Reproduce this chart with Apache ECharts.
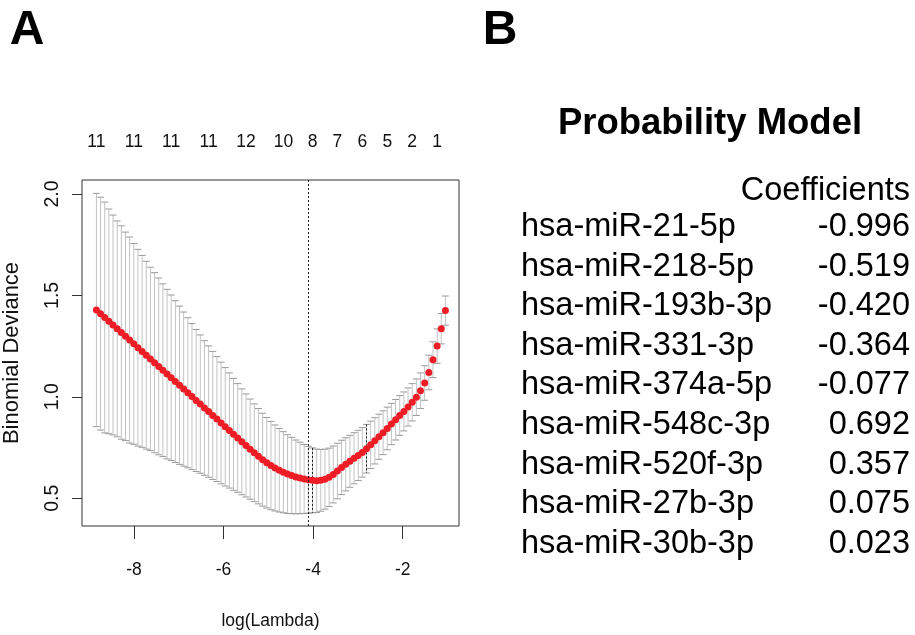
<!DOCTYPE html>
<html><head><meta charset="utf-8">
<script src="https://cdn.jsdelivr.net/npm/echarts@6/dist/echarts.min.js"></script>
<style>html,body{margin:0;padding:0;background:#fff}#c{width:915px;height:635px}</style>
</head><body><div id="c"></div>
<script>
// ---- data ----
const logLambda = [
-8.840,-8.747,-8.654,-8.562,-8.469,-8.376,-8.283,-8.190,-8.098,-8.005,
-7.912,-7.819,-7.726,-7.634,-7.541,-7.448,-7.355,-7.262,-7.170,-7.077,
-6.984,-6.891,-6.798,-6.706,-6.613,-6.520,-6.427,-6.334,-6.242,-6.149,
-6.056,-5.963,-5.870,-5.778,-5.685,-5.592,-5.499,-5.406,-5.314,-5.221,
-5.128,-5.035,-4.942,-4.850,-4.757,-4.664,-4.571,-4.478,-4.386,-4.293,
-4.200,-4.107,-4.014,-3.922,-3.829,-3.736,-3.643,-3.550,-3.458,-3.365,
-3.272,-3.179,-3.086,-2.994,-2.901,-2.808,-2.715,-2.622,-2.530,-2.437,
-2.344,-2.251,-2.158,-2.066,-1.973,-1.880,-1.787,-1.694,-1.602,-1.509,
-1.416,-1.323,-1.230,-1.138,-1.045];
const cvm = [
1.428,1.410,1.391,1.372,1.354,1.335,1.317,1.298,1.280,1.261,
1.242,1.224,1.205,1.187,1.168,1.150,1.131,1.112,1.094,1.075,
1.057,1.038,1.020,1.001,0.982,0.964,0.945,0.927,0.908,0.890,
0.871,0.852,0.834,0.815,0.797,0.778,0.760,0.742,0.724,0.707,
0.690,0.675,0.661,0.649,0.638,0.628,0.619,0.612,0.605,0.600,
0.595,0.591,0.588,0.586,0.588,0.594,0.603,0.617,0.634,0.652,
0.667,0.682,0.697,0.711,0.726,0.744,0.763,0.783,0.803,0.823,
0.844,0.866,0.887,0.908,0.928,0.950,0.973,0.998,1.030,1.068,
1.120,1.183,1.250,1.336,1.425];
const cvsd = [
0.575,0.574,0.569,0.554,0.542,0.532,0.526,0.514,0.508,0.495,
0.485,0.473,0.463,0.452,0.444,0.436,0.426,0.418,0.408,0.399,
0.390,0.380,0.370,0.360,0.350,0.341,0.332,0.324,0.316,0.308,
0.300,0.292,0.284,0.276,0.268,0.261,0.254,0.247,0.241,0.235,
0.229,0.223,0.218,0.212,0.206,0.200,0.194,0.188,0.182,0.176,
0.170,0.165,0.160,0.156,0.152,0.148,0.144,0.140,0.137,0.134,
0.131,0.128,0.126,0.124,0.122,0.120,0.117,0.114,0.111,0.108,
0.105,0.102,0.100,0.098,0.096,0.094,0.092,0.090,0.088,0.085,
0.085,0.088,0.085,0.075,0.072];
const lambdaMinLog = -4.107;
const dottedBarIdx = [52, 65];
const topLabelPos = [-8.840,-8.005,-7.170,-6.334,-5.499,-4.664,-4.014,-3.458,-2.901,-2.344,-1.787,-1.230];
const topLabels = ['11','11','11','11','12','10','8','7','6','5','2','1'];
const xTicks = [-8,-6,-4,-2];
const yTicks = [0.5,1.0,1.5,2.0];
const xTitle = 'log(Lambda)';
const yTitle = 'Binomial Deviance';
const panelTitle = 'Probability Model';
const coefHeader = 'Coefficients';
const genes = ['hsa-miR-21-5p','hsa-miR-218-5p','hsa-miR-193b-3p','hsa-miR-331-3p','hsa-miR-374a-5p',
               'hsa-miR-548c-3p','hsa-miR-520f-3p','hsa-miR-27b-3p','hsa-miR-30b-3p'];
const coefs = [-0.996,-0.519,-0.420,-0.364,-0.077,0.692,0.357,0.075,0.023];

// ---- chart ----
const SANS = '"Liberation Sans",Arial,Helvetica,sans-serif';
const chart = echarts.init(document.getElementById('c'), null, {renderer:'canvas'});

const graphics = [
  {type:'text', x:27, y:31, style:{text:'A', font:'bold 48px '+SANS, fill:'#000', align:'center', verticalAlign:'middle'}},
  {type:'text', x:500, y:31, style:{text:'B', font:'bold 48px '+SANS, fill:'#000', align:'center', verticalAlign:'middle'}},
  {type:'text', x:710, y:124, style:{text:panelTitle, font:'bold 36.5px '+SANS, fill:'#000', align:'center', verticalAlign:'middle'}},
  {type:'text', x:910, y:191, style:{text:coefHeader, font:'32.5px '+SANS, fill:'#000', align:'right', verticalAlign:'middle'}}
];
genes.forEach((g, k) => {
  const y = 227 + 39.6 * k;
  graphics.push({type:'text', x:521, y:y, style:{text:g, font:'32.5px '+SANS, fill:'#000', align:'left', verticalAlign:'middle'}});
  graphics.push({type:'text', x:910, y:y, style:{text:coefs[k].toFixed(3), font:'32.5px '+SANS, fill:'#000', align:'right', verticalAlign:'middle'}});
});

const option = {
  animation:false,
  backgroundColor:'#fff',
  grid:{left:82, top:180, right:456, bottom:107, show:true, borderColor:'#333', borderWidth:1, backgroundColor:'transparent'},
  xAxis:[{
    type:'value', min:-9.162, max:-0.742, position:'bottom',
    name:xTitle, nameLocation:'middle', nameGap:86,
    nameTextStyle:{fontFamily:SANS, fontSize:17.5, color:'#111'},
    axisLine:{show:false}, splitLine:{show:false},
    axisTick:{show:true, length:13, lineStyle:{color:'#333'}, customValues:xTicks},
    axisLabel:{customValues:xTicks, margin:35, fontFamily:SANS, fontSize:17.5, color:'#111', formatter:v=>String(v)}
  },{
    type:'value', min:-9.162, max:-0.742, position:'top',
    axisLine:{show:false}, splitLine:{show:false}, axisTick:{show:false},
    axisLabel:{customValues:topLabelPos, margin:29, fontFamily:SANS, fontSize:17.5, color:'#111',
      formatter:v=>{const k=topLabelPos.indexOf(v); return k>=0?topLabels[k]:'';}}
  }],
  yAxis:{
    type:'value', min:0.363, max:2.069,
    name:yTitle, nameLocation:'middle', nameGap:59,
    nameTextStyle:{fontFamily:SANS, fontSize:22, color:'#111'},
    axisLine:{show:false}, splitLine:{show:false},
    axisTick:{show:true, length:10, lineStyle:{color:'#333'}, customValues:yTicks},
    axisLabel:{customValues:yTicks, rotate:90, margin:19, fontFamily:SANS, fontSize:19.5, color:'#111', formatter:v=>v.toFixed(1)}
  },
  graphic:graphics,
  series:[{
    type:'custom', xAxisIndex:0, yAxisIndex:0, silent:true, z:2,
    data: logLambda.map((x,i)=>[x, cvm[i], cvsd[i]]),
    renderItem:(params, api)=>{
      const x=api.value(0), m=api.value(1), s=api.value(2);
      const t=api.coord([x, m+s]), b=api.coord([x, m-s]);
      const hw=3.5;
      const ch=[
        {type:'line', shape:{x1:t[0],y1:t[1],x2:b[0],y2:b[1]}, style:{stroke:'#c2c2c2', lineWidth:1}},
        {type:'line', shape:{x1:t[0]-hw,y1:t[1],x2:t[0]+hw,y2:t[1]}, style:{stroke:'#9a9a9a', lineWidth:1}},
        {type:'line', shape:{x1:b[0]-hw,y1:b[1],x2:b[0]+hw,y2:b[1]}, style:{stroke:'#9a9a9a', lineWidth:1}}
      ];
      if (dottedBarIdx.indexOf(params.dataIndex)>=0) {
        ch.push({type:'line', shape:{x1:t[0],y1:t[1],x2:b[0],y2:b[1]}, style:{stroke:'#222', lineWidth:1, lineDash:[2,2]}});
      }
      return {type:'group', children:ch};
    },
    markLine:{silent:true, symbol:['none','none'], label:{show:false},
      lineStyle:{color:'#222', type:[2,2], width:1}, data:[{xAxis:lambdaMinLog}]}
  },{
    type:'scatter', xAxisIndex:0, yAxisIndex:0, silent:true, z:3,
    symbol:'circle', symbolSize:7,
    itemStyle:{color:'#ee1c25', opacity:1},
    data: logLambda.map((x,i)=>[x, cvm[i]])
  }]
};
chart.setOption(option);
</script></body></html>
